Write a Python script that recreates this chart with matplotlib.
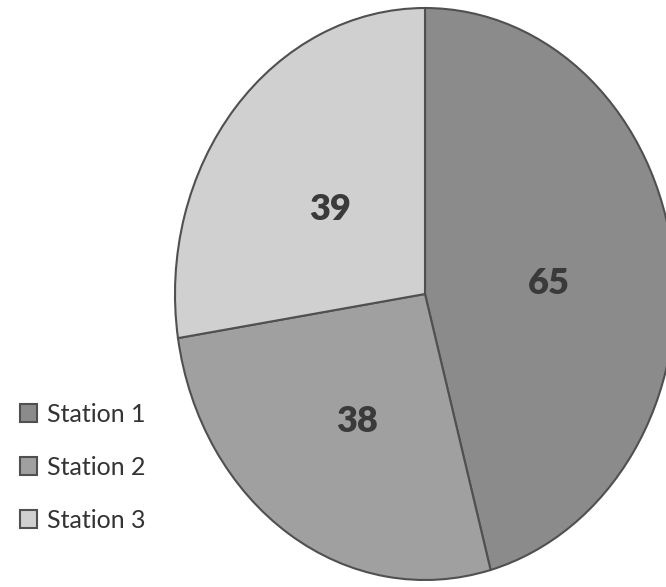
import matplotlib
matplotlib.use("Agg")
import matplotlib.pyplot as plt

categories = ["Station 1", "Station 2", "Station 3"]
values = [65, 38, 39]
colors = ["#8b8b8b", "#a0a0a0", "#d0d0d0"]

plt.rcParams['font.family'] = ['Lato', 'DejaVu Sans']

fig = plt.figure(figsize=(6.66, 5.87), dpi=100)
ax = fig.add_axes([0, 0, 1, 1])
total = sum(values)
wedges, texts, autotexts = ax.pie(
    values, colors=colors, startangle=90, counterclock=False,
    autopct=lambda p: f"{round(p * total / 100):.0f}", pctdistance=0.5,
    wedgeprops=dict(edgecolor="#505050", linewidth=1.5),
    textprops=dict(fontsize=26, fontweight="heavy", color="#3a3a3a"),
)
for t in autotexts:
    x, y = t.get_position()
    t.set_position((x, y - 0.028))
ax.set_aspect('auto')
ax.set_xlim(-1.7, 0.964)
ax.set_ylim(-1.0245, 1.028)
ax.axis('off')

leg = ax.legend(wedges, categories, loc="upper left", bbox_to_anchor=(0.015, 0.331),
                frameon=False, fontsize=18, handlelength=0.7, handleheight=0.7,
                handletextpad=0.4, labelspacing=1.2, borderaxespad=0)
for h in leg.legend_handles:
    h.set_edgecolor("#505050")
    h.set_linewidth(1.5)
for t in leg.get_texts():
    t.set_color("#333333")

fig.savefig("out.png", dpi=100)
